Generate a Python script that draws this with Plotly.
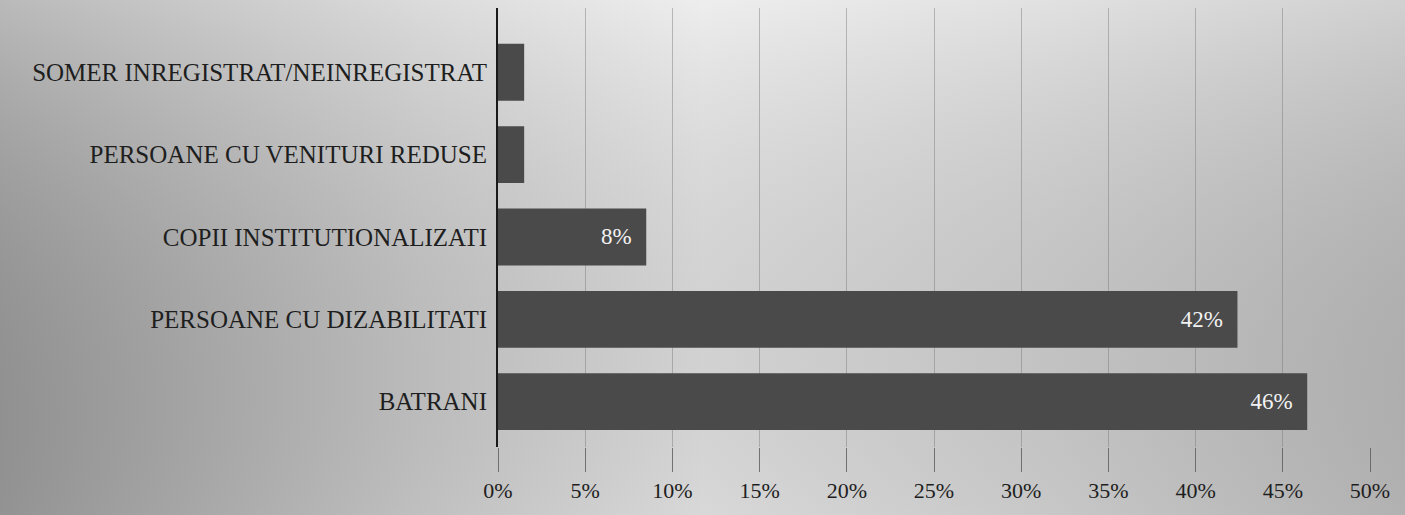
import base64
import plotly.graph_objects as go

categories = [
    "BATRANI",
    "PERSOANE CU DIZABILITATI",
    "COPII INSTITUTIONALIZATI",
    "PERSOANE CU VENITURI REDUSE",
    "SOMER INREGISTRAT/NEINREGISTRAT",
]
shares = [46.4, 42.4, 8.5, 1.5, 1.5]
bar_labels = ["46%", "42%", "8%", "", ""]
tick_vals = [0, 5, 10, 15, 20, 25, 30, 35, 40, 45, 50]
tick_text = [f"{v}%" for v in tick_vals]

# scanned-page look: soft grey gradient behind everything
svg = (
    '<svg xmlns="http://www.w3.org/2000/svg" width="1405" height="515" preserveAspectRatio="none">'
    '<defs><linearGradient id="g" x1="0" y1="0" x2="1" y2="0">'
    '<stop offset="0" stop-color="#9c9c9c"/>'
    '<stop offset="0.3" stop-color="#cccccc"/>'
    '<stop offset="0.5" stop-color="#e6e6e6"/>'
    '<stop offset="0.75" stop-color="#d4d4d4"/>'
    '<stop offset="1" stop-color="#bdbdbd"/>'
    '</linearGradient>'
    '<linearGradient id="v" x1="0" y1="0" x2="0" y2="1">'
    '<stop offset="0" stop-color="#ffffff" stop-opacity="0.3"/>'
    '<stop offset="1" stop-color="#000000" stop-opacity="0.06"/>'
    '</linearGradient></defs>'
    '<rect width="1405" height="515" fill="url(#g)"/>'
    '<rect width="1405" height="515" fill="url(#v)"/>'
    '</svg>'
)
bg_src = "data:image/svg+xml;base64," + base64.b64encode(svg.encode()).decode()

# plot area: x 498..1370, y 8..447
fig = go.Figure()
fig.add_trace(go.Bar(
    y=categories,
    x=shares,
    orientation="h",
    text=[t + "\u00a0\u00a0" if t else "" for t in bar_labels],
    textposition="inside",
    insidetextanchor="end",
    textfont=dict(family="Liberation Serif", size=23, color="#f2f2f2"),
    marker=dict(color="#4a4a4a", line=dict(width=0)),
    width=0.69,
))

fig.update_layout(
    width=1405,
    height=515,
    margin=dict(l=498, r=35, t=8, b=68),
    paper_bgcolor="rgba(0,0,0,0)",
    plot_bgcolor="rgba(0,0,0,0)",
    showlegend=False,
    font=dict(family="Liberation Serif", color="#1e1e1e"),
    images=[dict(
        source=bg_src, xref="paper", yref="paper",
        x=-498 / 872, y=1 + 8 / 439, sizex=1405 / 872, sizey=515 / 439,
        xanchor="left", yanchor="top", sizing="stretch", layer="below",
    )],
    xaxis=dict(
        range=[0, 50],
        tickvals=tick_vals,
        ticktext=tick_text,
        showgrid=True,
        gridcolor="rgba(120,120,120,0.45)",
        gridwidth=1,
        zeroline=False,
        ticks="outside",
        ticklen=24,
        tickcolor="rgba(90,90,90,0.8)",
        tickfont=dict(family="Liberation Serif", size=22, color="#1e1e1e"),
        showline=False,
    ),
    yaxis=dict(
        range=[-0.55, 4.78],
        showgrid=False,
        zeroline=False,
        showline=True,
        linecolor="#1a1a1a",
        linewidth=2,
        ticks="",
        ticklabelstandoff=4,
        tickfont=dict(family="Liberation Serif", size=25, color="#1e1e1e"),
    ),
)

fig.write_html(
    "out.html",
    config={"displayModeBar": False},
    post_script="document.body.style.margin='0';",
)
